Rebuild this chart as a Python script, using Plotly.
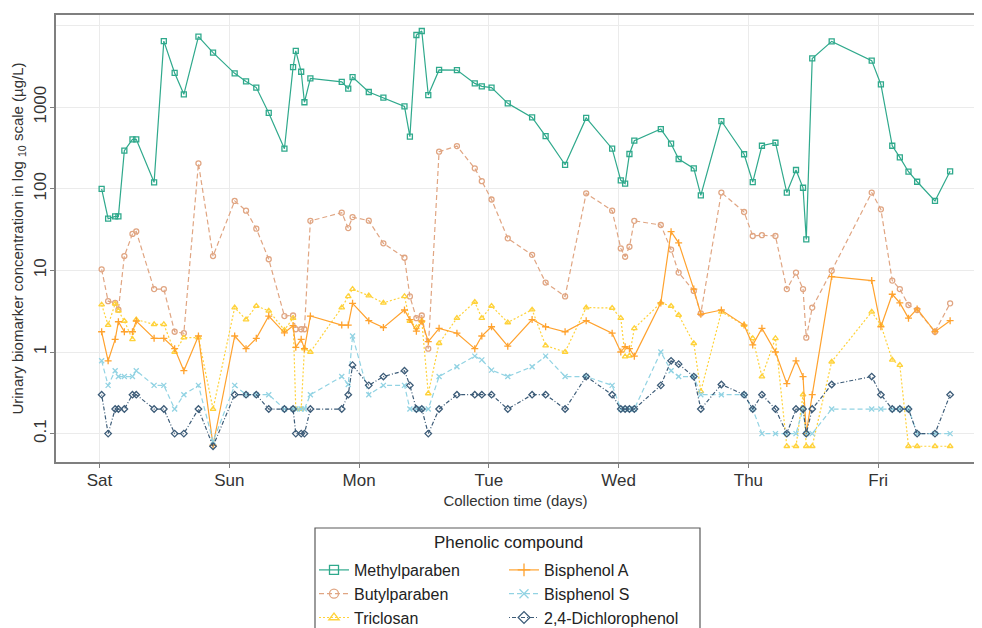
import plotly.graph_objects as go

# collection time in hours since Saturday 00:00
hours = [0.4, 1.6, 2.9, 3.5, 4.6, 6.1, 6.8, 10.1, 11.9, 13.9, 15.6, 18.3, 21.0,
         25.0, 27.1, 29.0, 31.3, 34.2, 35.8, 36.3, 37.3, 37.9, 39.0,
         44.8, 46.0, 46.8, 49.8, 52.5, 56.4, 57.4, 58.6, 59.6, 60.8, 62.8, 66.1, 69.4, 70.7,
         72.5, 75.5, 80.0, 82.5, 86.1, 90.0, 94.8, 96.4, 97.2, 98.0, 98.9,
         103.8, 105.7, 107.1, 109.9, 111.2, 115.0, 119.2, 120.8,
         122.5, 125.0, 127.1, 128.8, 130.1, 130.7, 131.8, 135.4, 142.8,
         144.5, 146.6, 148.0, 149.6, 151.2, 154.5, 157.3]

methylparaben = [100, 43, 46, 46, 293, 404, 404, 120, 6460, 2630, 1440, 7310, 4660,
                 2600, 2070, 1740, 850, 310, 3100, 4900, 2720, 1150, 2260,
                 2040, 1690, 2340, 1535, 1310, 1024, 436, 7670, 8590, 1410, 2860, 2850, 1960, 1800,
                 1740, 1115, 750, 443, 197, 738, 310, 127, 116, 267, 389,
                 540, 357, 232, 178, 83, 677, 265, 121,
                 337, 367, 90, 170, 103, 24, 3960, 6400, 3720,
                 1900, 337, 243, 162, 122, 71, 164]

butylparaben = [10.3, 4.2, 4.0, 3.3, 15, 28, 30, 5.9, 5.9, 1.77, 1.7, 205, 15,
                71, 54, 32.5, 13.7, 2.76, 2.8, 1.9, 1.9, 1.9, 40.5,
                51, 33, 45, 40.7, 21.5, 14.3, 4.8, 2.6, 2.8, 1.1, 285, 334, 178, 124,
                74, 24.7, 15.5, 7.1, 4.8, 88, 54, 18.6, 14.7, 19.5, 40.5,
                36, 18, 9.4, 5.6, 2.97, 90, 52, 26.4,
                27, 26.4, 5.9, 9.4, 5.9, 1.5, 3.5, 9.9, 90,
                56, 7.5, 5.9, 3.77, 3.27, 1.77, 3.95]

triclosan = [3.8, 2.14, 3.9, 3.2, 2.4, 1.43, 2.5, 2.18, 2.18, 1.0, 1.5, 1.5, 0.2,
             3.5, 2.5, 3.66, 3.2, 1.86, 2.6, 0.2, 0.2, 1.1, 1.0,
             3.5, 4.8, 5.9, 4.9, 4.0, 4.8, 2.4, 2.0, 2.4, 0.31, 1.28, 2.6, 4.1, 2.6,
             3.66, 2.3, 3.3, 1.2, 1.0, 3.5, 3.46, 2.6, 0.88, 0.9, 1.95,
             4.0, 3.66, 2.84, 1.28, 0.33, 3.1, 2.14, 1.47,
             0.5, 1.47, 0.07, 0.07, 0.3, 0.07, 0.07, 0.76, 3.1,
             2.14, 0.8, 0.69, 0.07, 0.07, 0.07, 0.07]

bisphenol_a = [1.77, 0.78, 1.43, 2.35, 1.77, 1.77, 2.4, 1.47, 1.47, 1.1, 0.59, 1.57, 0.072,
               1.57, 1.1, 1.47, 2.76, 1.72, 2.1, 1.14, 1.43, 1.1, 2.76,
               2.14, 2.14, 3.95, 2.42, 1.99, 3.27, 2.5, 1.8, 2.4, 1.34, 1.95, 1.7, 1.1, 1.57,
               2.04, 1.18, 2.5, 2.04, 1.77, 2.42, 1.7, 1.0, 1.16, 1.1, 0.89,
               4.0, 29.8, 21.8, 5.9, 2.9, 3.27, 2.14, 1.22,
               1.95, 1.0, 0.41, 0.78, 0.5, 0.1, 0.3, 8.4, 7.5,
               2.04, 5.1, 4.0, 2.6, 3.37, 1.77, 2.42]

bisphenol_s = [0.78, 0.39, 0.59, 0.5, 0.5, 0.5, 0.59, 0.39, 0.39, 0.2, 0.3, 0.39, 0.08,
               0.39, 0.3, 0.3, 0.3, 0.2, 0.2, 0.2, 0.2, 0.2, 0.3,
               0.5, 0.4, 1.57, 0.3, 0.39, 0.39, 0.2, 0.2, 0.2, 0.2, 0.5, 0.66, 0.89, 0.8,
               0.6, 0.5, 0.66, 0.89, 0.5, 0.5, 0.39, 0.2, 0.2, 0.2, 0.2,
               1.0, 0.59, 0.5, 0.5, 0.3, 0.3, 0.3, 0.2,
               0.1, 0.1, 0.1, 0.1, 0.2, 0.1, 0.1, 0.2, 0.2,
               0.2, 0.2, 0.2, 0.2, 0.1, 0.1, 0.1]

dichlorophenol = [0.3, 0.1, 0.2, 0.2, 0.2, 0.3, 0.3, 0.2, 0.2, 0.1, 0.1, 0.2, 0.07,
                  0.3, 0.3, 0.3, 0.2, 0.2, 0.2, 0.1, 0.1, 0.1, 0.2,
                  0.2, 0.3, 0.69, 0.39, 0.5, 0.59, 0.39, 0.2, 0.2, 0.1, 0.2, 0.3, 0.3, 0.3,
                  0.3, 0.2, 0.3, 0.3, 0.2, 0.5, 0.3, 0.2, 0.2, 0.2, 0.2,
                  0.39, 0.78, 0.71, 0.5, 0.2, 0.4, 0.3, 0.2,
                  0.3, 0.2, 0.1, 0.2, 0.2, 0.1, 0.2, 0.4, 0.5,
                  0.3, 0.2, 0.2, 0.2, 0.1, 0.1, 0.3]

day_labels = ["Sat", "Sun", "Mon", "Tue", "Wed", "Thu", "Fri"]
day_hours = [0, 24, 48, 72, 96, 120, 144]
y_ticks = [0.1, 1, 10, 100, 1000]
y_ticktext = ["0.1", "1", "10", "100", "1000"]
y_extra_grid = [10000]

series = [
    ("Methylparaben", methylparaben, "#2fa98c", "solid", "square-open", "legend"),
    ("Butylparaben", butylparaben, "#e0a582", "5px,3px", "circle-open", "legend"),
    ("Triclosan", triclosan, "#ffd23a", "2px,2px", "triangle-up-open", "legend"),
    ("Bisphenol A", bisphenol_a, "#ffa22e", "solid", "cross-thin-open", "legend2"),
    ("Bisphenol S", bisphenol_s, "#92d3e3", "5px,3px", "x-thin-open", "legend2"),
    ("2,4-Dichlorophenol", dichlorophenol, "#3d5c78", "1px,2px,4px,2px", "diamond-open", "legend2"),
]

fig = go.Figure()
for name, vals, col, dash, sym, leg in series:
    fig.add_trace(go.Scatter(
        x=hours, y=vals, name=name, mode="lines+markers",
        line=dict(color=col, width=1.2, dash=dash),
        marker=dict(symbol=sym, size=5, color=col, line=dict(color=col, width=1.3)),
        showlegend=False, legendgroup=name,
    ))
# legend keys (no data, larger symbols as in the reference key)
for name, vals, col, dash, sym, leg in series:
    fig.add_trace(go.Scatter(
        x=[None], y=[None], name=name, mode="lines+markers",
        line=dict(color=col, width=1.2, dash=dash),
        marker=dict(symbol=sym, size=9, color=col, line=dict(color=col, width=1.3)),
        legend=leg, legendgroup=name, showlegend=True,
    ))

FONT = "Liberation Sans, Arial, sans-serif"
OFF = 8                      # page body margin
L, R, T, B = 56, 975, 15, 462   # plot area in page pixels
W, H = 982 - OFF, 628 - OFF
pw, ph = R - L, B - T

def px(x):
    return (x - L) / pw

def py(y):
    return (B - y) / ph

fig.update_layout(
    width=W, height=H,
    margin=dict(l=L - OFF, r=W - (R - OFF), t=T - OFF, b=H - (B - OFF), autoexpand=False),
    plot_bgcolor="white", paper_bgcolor="white",
    font=dict(family=FONT, color="#333333"),
    xaxis=dict(
        range=[-8.04, 161.9], tickvals=day_hours, ticktext=day_labels,
        showgrid=True, gridcolor="#ebebeb", gridwidth=1,
        showline=True, linecolor="#7f7f7f", linewidth=1.5, mirror=True,
        ticks="outside", ticklen=4, tickcolor="#7f7f7f",
        tickfont=dict(size=17, color="#333333"), ticklabelstandoff=-2,
        zeroline=False,
        title=dict(text="Collection time (days)", font=dict(size=15, color="#333333"), standoff=6),
    ),
    yaxis=dict(
        type="log", range=[-1.348, 4.13], tickvals=y_ticks, ticktext=y_ticktext,
        tickangle=-90,
        showgrid=True, gridcolor="#ebebeb", gridwidth=1,
        minor=dict(tickvals=y_extra_grid, showgrid=True, gridcolor="#ebebeb", gridwidth=1, ticks=""),
        showline=True, linecolor="#7f7f7f", linewidth=1.5, mirror=True,
        ticks="outside", ticklen=4, tickcolor="#7f7f7f",
        tickfont=dict(size=17, color="#333333"), ticklabelstandoff=-3,
        zeroline=False,
        title=dict(text="Urinary biomarker concentration in log <sub>10</sub> scale (µg/L)",
                   font=dict(size=15, color="#333333"), standoff=4),
    ),
    legend=dict(
        x=px(314), y=py(553), xanchor="left", yanchor="top",
        bgcolor="rgba(0,0,0,0)", borderwidth=0, groupclick="togglegroup", tracegroupgap=0,
        font=dict(size=16, color="#222222"), orientation="v",
    ),
    legend2=dict(
        x=px(504), y=py(553), xanchor="left", yanchor="top",
        bgcolor="rgba(0,0,0,0)", borderwidth=0, groupclick="togglegroup", tracegroupgap=0,
        font=dict(size=16, color="#222222"), orientation="v",
    ),
    shapes=[dict(type="rect", xref="paper", yref="paper",
                 x0=px(315), x1=px(700), y0=py(680), y1=py(528),
                 line=dict(color="#5a5a5a", width=1.2), fillcolor="rgba(0,0,0,0)")],
    annotations=[dict(text="Phenolic compound", xref="paper", yref="paper",
                      x=px(508), y=py(542), xanchor="center", yanchor="middle",
                      showarrow=False, font=dict(size=17, color="#222222"))],
)

fig.write_html("out.html")
